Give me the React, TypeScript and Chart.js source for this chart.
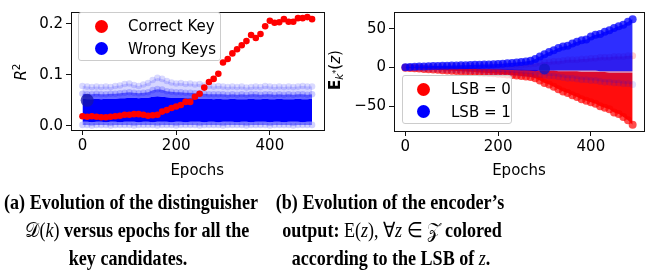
import React, { useEffect, useRef } from 'react';
import { Chart, registerables } from 'chart.js';
Chart.register(...registerables);
Chart.defaults.font.family = "'DejaVu Sans'";

const epochs = [0,10,20,30,40,50,60,70,80,90,100,110,120,130,140,150,160,170,180,190,200,210,220,230,240,250,260,270,280,290,300,310,320,330,340,350,360,370,380,390,400,410,420,430,440,450,460,470,480,490];

// Left chart: R^2 of the distinguisher
const correctKey = [0.019,0.018,0.019,0.018,0.017,0.017,0.018,0.019,0.020,0.022,0.022,0.023,0.023,0.022,0.020,0.021,0.022,0.028,0.031,0.035,0.038,0.041,0.047,0.047,0.057,0.063,0.075,0.086,0.092,0.102,0.124,0.131,0.142,0.150,0.158,0.166,0.178,0.172,0.180,0.195,0.206,0.202,0.203,0.209,0.204,0.204,0.211,0.211,0.213,0.209];
const wrongKeysMax = [0.078,0.077,0.076,0.077,0.076,0.077,0.076,0.078,0.079,0.082,0.083,0.080,0.078,0.081,0.084,0.090,0.094,0.092,0.088,0.085,0.083,0.084,0.082,0.083,0.081,0.082,0.079,0.078,0.077,0.078,0.077,0.076,0.077,0.076,0.077,0.075,0.076,0.077,0.076,0.078,0.077,0.076,0.077,0.076,0.077,0.076,0.077,0.078,0.077,0.077];
const wrongKeysHigh = [0.063,0.062,0.062,0.063,0.062,0.062,0.063,0.063,0.064,0.065,0.066,0.065,0.064,0.065,0.066,0.070,0.072,0.071,0.068,0.067,0.066,0.066,0.065,0.065,0.064,0.064,0.063,0.062,0.062,0.062,0.062,0.061,0.062,0.061,0.062,0.061,0.062,0.062,0.061,0.062,0.062,0.061,0.062,0.061,0.062,0.061,0.062,0.062,0.061,0.062];
const wrongKeysCore = [0.053,0.052,0.052,0.053,0.052,0.053,0.053,0.053,0.054,0.054,0.055,0.055,0.054,0.055,0.055,0.057,0.058,0.057,0.056,0.055,0.055,0.055,0.054,0.054,0.054,0.053,0.053,0.053,0.052,0.053,0.052,0.052,0.053,0.052,0.052,0.052,0.053,0.052,0.052,0.053,0.052,0.052,0.053,0.052,0.052,0.052,0.053,0.052,0.052,0.053];
const wrongKeysLow = [0.008,0.008,0.007,0.008,0.008,0.007,0.008,0.008,0.007,0.008,0.008,0.008,0.007,0.008,0.008,0.007,0.008,0.008,0.008,0.007,0.008,0.008,0.007,0.008,0.008,0.008,0.007,0.008,0.008,0.007,0.008,0.008,0.008,0.007,0.008,0.008,0.007,0.008,0.008,0.008,0.007,0.008,0.008,0.007,0.008,0.008,0.008,0.007,0.008,0.008];
const wrongKeysMin = [0.002,0.002,0.001,0.002,0.002,0.002,0.001,0.002,0.002,0.002,0.002,0.001,0.002,0.002,0.002,0.002,0.001,0.002,0.002,0.002,0.001,0.002,0.002,0.002,0.002,0.001,0.002,0.002,0.002,0.002,0.001,0.002,0.002,0.002,0.002,0.001,0.002,0.002,0.002,0.002,0.001,0.002,0.002,0.002,0.002,0.001,0.002,0.002,0.002,0.002];
const wrongKeysMarker = { x: 10, y: 0.05 };

// Right chart: encoder output, by LSB
const lsb1Max = [0.2,0.5,0.8,1.1,1.3,1.5,1.7,1.9,2.1,2.3,2.4,2.6,2.8,2.9,3.1,3.3,3.5,3.7,3.9,4.2,4.5,4.9,5.3,5.8,6.4,7.0,7.7,8.6,11,14,17,20,22,25,27,28,31,33,35,36,40,42,43,46,48,51,53,55,59,62];
const lsb1CoreMin = [-0.1,-0.3,-0.4,-0.5,-0.7,-0.8,-0.9,-1.1,-1.2,-1.4,-1.5,-1.6,-1.7,-1.9,-2.0,-2.1,-2.2,-2.4,-2.5,-2.7,-2.8,-3.0,-3.2,-3.4,-3.6,-3.8,-4.1,-4.4,-5,-4,-4,-4,-4,-4,-4,-4,-4,-4,-4,-4,-4,-4,-5,-5,-5,-5,-5,-5,-5,-5];
const lsb1Min = [-0.2,-0.5,-0.8,-1.1,-1.4,-1.7,-2.0,-2.3,-2.6,-2.9,-3.1,-3.4,-3.7,-3.9,-4.2,-4.4,-4.7,-5.0,-5.2,-5.5,-5.8,-6.1,-6.5,-6.9,-7.3,-7.8,-8.3,-8.9,-9,-9,-10,-11,-11,-12,-13,-14,-14,-15,-16,-16,-17,-17,-18,-19,-19,-20,-20,-21,-21,-22];
const lsb0Max = [0.1,0.3,0.5,0.6,0.7,0.8,1.0,1.0,1.1,1.2,1.3,1.3,1.4,1.4,1.5,1.6,1.6,1.7,1.8,1.9,2.0,2.2,2.3,2.6,2.9,3.2,3.7,4.4,5,6,7,7,8,8,9,10,10,10,11,11,12,12,13,13,13,14,14,14,15,15];
const lsb0CoreMax = [0,0,-0.1,-0.2,-0.3,-0.4,-0.5,-0.6,-0.7,-0.8,-0.9,-1.0,-1.1,-1.2,-1.3,-1.4,-1.5,-1.6,-1.7,-1.8,-1.9,-2.0,-2.2,-2.4,-2.6,-2.8,-3.0,-3.3,-3,-4,-4,-4,-4,-5,-5,-5,-5,-5,-6,-6,-6,-6,-6,-6,-7,-7,-7,-7,-7,-7];
const lsb0Min = [-0.3,-0.7,-1.1,-1.5,-1.9,-2.3,-2.7,-3.1,-3.5,-3.9,-4.2,-4.6,-5.0,-5.3,-5.7,-6.0,-6.4,-6.8,-7.2,-7.6,-8.1,-8.6,-9.1,-9.7,-10.3,-10.9,-11.6,-12.4,-14,-17,-20,-22,-25,-28,-31,-33,-36,-38,-41,-43,-45,-47,-50,-52,-54,-58,-60,-64,-68,-74];
const lsb1Marker = { x: 300, y: -2 };

const xTicks = [0, 200, 400];
const xTickLabels = ['0', '200', '400'];
const leftYTicks = [0, 0.1, 0.2];
const leftYTickLabels = ['0.0', '0.1', '0.2'];
const rightYTicks = [-50, 0, 50];
const rightYTickLabels = ['\u221250', '0', '50'];

const xy = (vals: number[]) => vals.map((v, i) => ({ x: epochs[i], y: v }));
const CLEAR = 'rgba(0,0,0,0)';

const framePlugin = {
  id: 'frame',
  afterDraw(chart: any) {
    const { ctx, chartArea: a } = chart;
    ctx.save();
    ctx.strokeStyle = '#111';
    ctx.lineWidth = 1;
    ctx.strokeRect(Math.round(a.left) + 0.5, Math.round(a.top) + 0.5, Math.round(a.right - a.left), Math.round(a.bottom - a.top));
    ctx.restore();
  },
};

function band(data: number[], fillColor: string | null, target: number | null, ptColor: string | null, ptRadius = 3.3) {
  return {
    data: xy(data),
    showLine: true,
    borderColor: CLEAR,
    borderWidth: 0,
    backgroundColor: fillColor || CLEAR,
    fill: target === null ? false : { target },
    pointRadius: ptColor ? ptRadius : 0,
    pointBackgroundColor: ptColor || CLEAR,
    pointBorderWidth: 0,
    tension: 0,
  };
}

function scales(xMin: number, xMax: number, yMin: number, yMax: number, yTicks: number[], yLabels: string[], yWidth: number, xHeight: number) {
  return {
    x: {
      type: 'linear', min: xMin, max: xMax,
      afterBuildTicks: (s: any) => { s.ticks = xTicks.map((v) => ({ value: v })); },
      afterFit: (s: any) => { s.height = xHeight; },
      ticks: { font: { size: 15 }, color: '#000', padding: 2, maxRotation: 0, autoSkip: false, callback: (_v: any, i: number) => xTickLabels[i] },
      grid: { drawOnChartArea: false, drawTicks: true, tickLength: 5, color: '#111', lineWidth: 1 },
      border: { display: false },
      title: { display: true, text: 'Epochs', font: { size: 15 }, color: '#000', padding: { top: 0, bottom: 10 } },
    },
    y: {
      type: 'linear', min: yMin, max: yMax,
      afterBuildTicks: (s: any) => { s.ticks = yTicks.map((v) => ({ value: v })); },
      afterFit: (s: any) => { s.width = yWidth; },
      ticks: { font: { size: 15 }, color: '#000', padding: 3, autoSkip: false, callback: (_v: any, i: number) => yLabels[i] },
      grid: { drawOnChartArea: false, drawTicks: true, tickLength: 5, color: '#111', lineWidth: 1 },
      border: { display: false },
    },
  };
}

function leftConfig(): any {
  return {
    type: 'line',
    data: {
      datasets: [
        { data: xy(correctKey), showLine: false, pointRadius: 3.3, pointBackgroundColor: 'rgb(255,0,0)', pointBorderWidth: 0, borderColor: CLEAR },
        { data: [wrongKeysMarker], showLine: false, pointRadius: 6.5, pointBackgroundColor: 'rgba(20,20,170,0.75)', pointBorderWidth: 0, borderColor: CLEAR },
        band(wrongKeysMax, 'rgba(0,0,255,0.16)', 3, 'rgba(0,0,255,0.15)'),
        band(wrongKeysHigh, 'rgba(0,0,255,0.6)', 4, 'rgba(0,0,255,0.2)'),
        band(wrongKeysCore, 'rgb(0,0,255)', 5, null),
        band(wrongKeysLow, 'rgba(0,0,255,0.45)', 6, null),
        band(wrongKeysMin, null, null, 'rgba(0,0,255,0.18)'),
      ],
    },
    options: {
      animation: false, responsive: false, events: [],
      layout: { padding: { left: 0, top: 4, right: 5, bottom: 0 } },
      plugins: { legend: { display: false }, tooltip: { enabled: false } },
      scales: scales(-24.5, 514.5, -0.008, 0.223, leftYTicks, leftYTickLabels, 71, 60),
    },
    plugins: [framePlugin],
  };
}

function rightConfig(): any {
  return {
    type: 'line',
    data: {
      datasets: [
        { data: [lsb1Marker], showLine: false, pointRadius: 5.5, pointBackgroundColor: 'rgba(20,20,200,0.8)', pointBorderWidth: 0, borderColor: CLEAR },
        band(lsb1Max, 'rgba(0,0,255,0.82)', 2, 'rgba(0,0,255,0.75)', 4),
        band(lsb1CoreMin, 'rgba(0,0,255,0.14)', 3, null),
        band(lsb1Min, null, null, 'rgba(0,0,255,0.12)', 3.5),
        band(lsb0Max, 'rgba(255,0,0,0.35)', 5, 'rgba(255,0,0,0.2)', 3.5),
        band(lsb0CoreMax, 'rgba(255,0,0,0.95)', 6, null),
        band(lsb0Min, null, null, 'rgba(255,0,0,0.7)', 4),
      ],
    },
    options: {
      animation: false, responsive: false, events: [],
      layout: { padding: { left: 0, top: 7, right: 6, bottom: 0 } },
      plugins: { legend: { display: false }, tooltip: { enabled: false } },
      scales: scales(-24.5, 514.5, -82, 71.5, rightYTicks, rightYTickLabels, 69, 59),
    },
    plugins: [framePlugin],
  };
}

const sans = "'DejaVu Sans'";
const serif = "'Liberation Serif'";

function LegendBox(props: { left: number; top: number; width: number; height: number; items: { color: string; label: string }[]; markerX: number; textX: number; rowY: number[] }) {
  const { left, top, width, height, items, markerX, textX, rowY } = props;
  return (
    <div style={{ position: 'absolute', left, top, width, height, border: '1px solid #cccccc', borderRadius: 3, background: 'rgba(255,255,255,0.8)', boxSizing: 'border-box' }}>
      {items.map((it, i) => (
        <React.Fragment key={i}>
          <div style={{ position: 'absolute', left: markerX - left - 6.5, top: rowY[i] - top - 6.5, width: 13, height: 13, borderRadius: '50%', background: it.color }} />
          <div style={{ position: 'absolute', left: textX - left, top: rowY[i] - top - 9, height: 18, lineHeight: '18px', fontFamily: sans, fontSize: 15, whiteSpace: 'nowrap', color: '#000' }}>{it.label}</div>
        </React.Fragment>
      ))}
    </div>
  );
}

function CaptionLine(props: { cx: number; top: number; children: any }) {
  return (
    <div style={{ position: 'absolute', left: props.cx - 200, top: props.top, width: 400, textAlign: 'center', fontFamily: serif, fontWeight: 'bold', fontSize: 21, lineHeight: '30px', whiteSpace: 'nowrap', transform: 'scaleX(0.86)', color: '#000' }}>
      {props.children}
    </div>
  );
}

export default function App() {
  const leftRef = useRef<HTMLCanvasElement>(null);
  const rightRef = useRef<HTMLCanvasElement>(null);
  useEffect(() => {
    const c1 = new Chart(leftRef.current as HTMLCanvasElement, leftConfig());
    const c2 = new Chart(rightRef.current as HTMLCanvasElement, rightConfig());
    return () => { c1.destroy(); c2.destroy(); };
  }, []);
  const math = { fontWeight: 'normal' as const };
  return (
    <div style={{ position: 'absolute', left: 0, top: 0, width: 650, height: 273, background: '#fff', overflow: 'hidden' }}>
      <canvas ref={leftRef} width={330} height={190} style={{ position: 'absolute', left: 0, top: 0 }} />
      <canvas ref={rightRef} width={325} height={190} style={{ position: 'absolute', left: 325, top: 0 }} />
      <div style={{ position: 'absolute', left: 21, top: 72, transform: 'translate(-50%,-50%) rotate(-90deg)', fontFamily: sans, fontSize: 15, lineHeight: '18px', whiteSpace: 'nowrap' }}>
        <i>R</i><span style={{ fontSize: 10.5, position: 'relative', top: -6 }}>2</span>
      </div>
      <div style={{ position: 'absolute', left: 336, top: 70, transform: 'translate(-50%,-50%) rotate(-90deg)', fontFamily: sans, fontSize: 15, lineHeight: '18px', whiteSpace: 'nowrap' }}>
        <b>E</b><span style={{ fontSize: 10.5, fontStyle: 'italic', position: 'relative', top: 3 }}>k</span><span style={{ fontSize: 8, position: 'relative', top: -1 }}>*</span>(<i>z</i>)
      </div>
      <LegendBox left={78} top={12} width={143} height={49} markerX={100} textX={127} rowY={[25, 47.7]}
        items={[{ color: 'rgb(255,0,0)', label: 'Correct Key' }, { color: 'rgb(0,0,255)', label: 'Wrong Keys' }]} />
      <LegendBox left={402} top={75} width={110} height={49} markerX={422.7} textX={450} rowY={[88.3, 110.7]}
        items={[{ color: 'rgb(255,0,0)', label: 'LSB = 0' }, { color: 'rgb(0,0,255)', label: 'LSB = 1' }]} />
      <CaptionLine cx={131} top={187}>(a) Evolution of the distinguisher</CaptionLine>
      <CaptionLine cx={137} top={215}><span style={math}>𝒟(<i>k</i>)</span> versus epochs for all the</CaptionLine>
      <CaptionLine cx={128} top={243}>key candidates.</CaptionLine>
      <CaptionLine cx={390} top={187}>(b) Evolution of the encoder’s</CaptionLine>
      <CaptionLine cx={392} top={215}>output: <span style={math}>E(<i>z</i>), ∀<i>z</i> ∈ 𝒵</span> colored</CaptionLine>
      <CaptionLine cx={391} top={243}>according to the LSB of <i style={math}>z</i>.</CaptionLine>
    </div>
  );
}
